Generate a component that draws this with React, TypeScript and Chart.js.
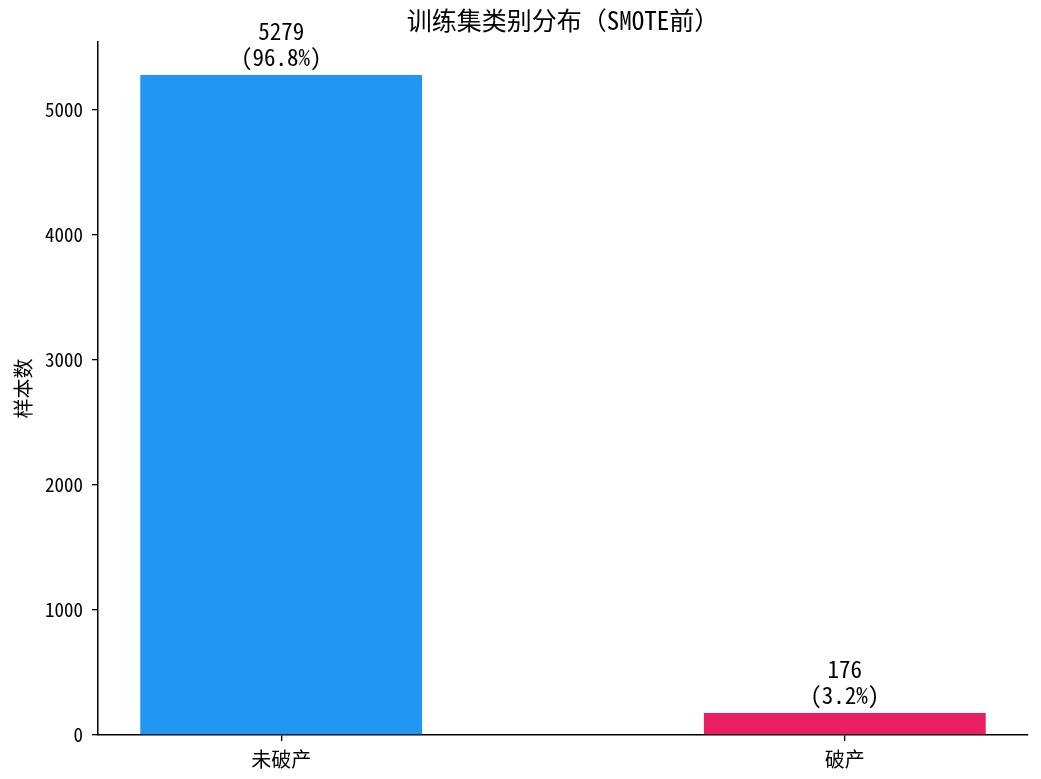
import React, { useEffect, useRef } from "react";
import { Chart, registerables } from "chart.js";

Chart.register(...registerables);

const categories = ["未破产", "破产"];
const counts = [5279, 176];
const percents = ["96.8%", "3.2%"];
const colors = ["#2196F3", "#E91E63"];
const yTicks = [0, 1000, 2000, 3000, 4000, 5000];
const titleText = "训练集类别分布（SMOTE前）";
const yLabel = "样本数";

const FONT = "'Noto Sans Mono CJK SC', 'Noto Sans CJK SC', 'DejaVu Sans', sans-serif";

export default function App() {
  const ref = useRef<HTMLCanvasElement | null>(null);

  useEffect(() => {
    document.body.style.margin = "0";
    const ctx = ref.current!.getContext("2d")!;
    const yMax = Math.max(...counts) * 1.05;

    const labelPlugin = {
      id: "barLabels",
      afterDatasetsDraw(chart: any) {
        const c = chart.ctx;
        const meta = chart.getDatasetMeta(0);
        c.save();
        c.fillStyle = "#000";
        c.font = `23px ${FONT}`;
        c.textAlign = "center";
        c.textBaseline = "middle";
        meta.data.forEach((el: any, i: number) => {
          c.fillText(String(counts[i]), el.x, el.y - 44);
          c.fillText(`(${percents[i]})`, el.x, el.y - 18);
        });
        const ca = chart.chartArea;
        c.font = `25px ${FONT}`;
        c.fillText(titleText, (ca.left + ca.right) / 2, 20);
        c.restore();
      },
    };

    const chart = new Chart(ctx, {
      type: "bar",
      data: {
        datasets: [
          {
            data: counts.map((v, i) => ({ x: i, y: v })),
            backgroundColor: colors,
            borderWidth: 0,
            barPercentage: 0.5,
            categoryPercentage: 1,
          },
        ],
      },
      options: {
        animation: false,
        responsive: false,
        devicePixelRatio: 1,
        layout: { padding: { top: 42, right: 13, left: 0, bottom: 0 } },
        plugins: {
          legend: { display: false },
          title: { display: false },
          tooltip: { enabled: false },
        },
        scales: {
          x: {
            type: "linear",
            offset: false,
            min: -0.325,
            max: 1.325,
            afterBuildTicks: (scale: any) => {
              scale.ticks = categories.map((_, i) => ({ value: i }));
            },
            afterFit: (scale: any) => {
              scale.height = 44;
            },
            ticks: {
              color: "#000",
              font: { family: FONT, size: 20 },
              padding: 6,
              maxRotation: 0,
              autoSkip: false,
              callback: (v: any) => categories[Math.round(Number(v))] ?? "",
            },
            grid: {
              display: true,
              offset: false,
              drawOnChartArea: false,
              drawTicks: true,
              tickLength: 6,
              color: "#000",
              lineWidth: 1.3,
            },
            border: { display: true, color: "#000", width: 1.5 },
          },
          y: {
            type: "linear",
            min: 0,
            max: yMax,
            afterBuildTicks: (scale: any) => {
              scale.ticks = yTicks.map((v) => ({ value: v }));
            },
            afterFit: (scale: any) => {
              scale.width = 98;
            },
            ticks: {
              color: "#000",
              font: { family: FONT, size: 19 },
              padding: 9,
              callback: (v: any) => String(v),
            },
            title: {
              display: true,
              text: yLabel,
              color: "#000",
              font: { family: FONT, size: 20 },
              padding: { top: 11, bottom: 0 },
            },
            grid: {
              display: true,
              drawOnChartArea: false,
              drawTicks: true,
              tickLength: 6,
              color: "#000",
              lineWidth: 1.3,
            },
            border: { display: true, color: "#000", width: 1.5 },
          },
        },
      },
      plugins: [labelPlugin],
    });

    return () => chart.destroy();
  }, []);

  return (
    <div style={{ position: "absolute", left: 0, top: 0, width: 1041, height: 779, background: "#fff" }}>
      <canvas ref={ref} width={1041} height={779} style={{ width: 1041, height: 779 }} />
    </div>
  );
}
